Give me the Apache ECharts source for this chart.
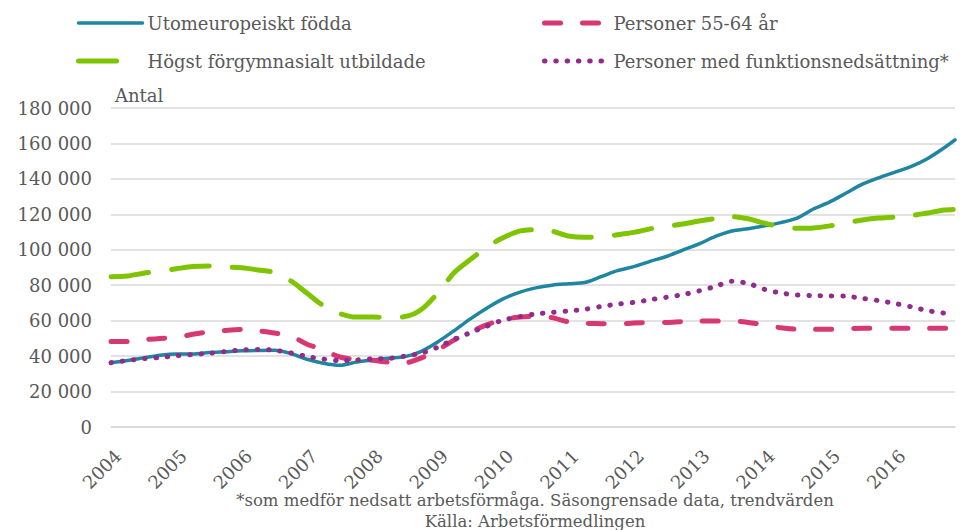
<!DOCTYPE html>
<html>
<head>
<meta charset="utf-8">
<script src="https://cdn.jsdelivr.net/npm/echarts@6/dist/echarts.min.js"></script>
<style>
html,body{margin:0;padding:0;background:#fff}
#chart{width:964px;height:530px}
</style>
</head>
<body>
<div id="chart"></div>
<script>
// kvartalsvisa avläsningar (månad), sista punkten december 2016
var datum = [
  '2004-01','2004-04','2004-07','2004-10','2005-01','2005-04','2005-07','2005-10',
  '2006-01','2006-04','2006-07','2006-10','2007-01','2007-04','2007-07','2007-10',
  '2008-01','2008-04','2008-07','2008-10','2009-01','2009-04','2009-07','2009-10',
  '2010-01','2010-04','2010-07','2010-10','2011-01','2011-04','2011-07','2011-10',
  '2012-01','2012-04','2012-07','2012-10','2013-01','2013-04','2013-07','2013-10',
  '2014-01','2014-04','2014-07','2014-10','2015-01','2015-04','2015-07','2015-10',
  '2016-01','2016-04','2016-07','2016-10','2016-12'
];
var ar = [2004,2005,2006,2007,2008,2009,2010,2011,2012,2013,2014,2015,2016];

var utomeuropeiskt = [
  36300,37500,39000,40500, 41200,41200,42000,42500, 43000,43200,43300,41500,
  38200,36000,34800,36600, 37800,38800,39700,42700, 48000,54300,61000,67000,
  72300,76000,78500,80000, 80800,81500,84800,88200, 90500,93500,96200,99800,
  103300,107500,110600,111900, 113500,115300,117800,123000, 127000,132000,137000,140600,
  143800,147000,151500,157500, 162000
];
var personer5564 = [
  48200,48200,49200,50000, 50500,52300,53700,54500, 55000,54300,53000,51500,
  46700,43600,39500,38200, 37600,36600,36300,39000, 43500,49000,53600,57600,
  60800,62000,62500,61700, 59300,58500,58300,58100, 58700,58900,59000,59500,
  59800,59800,59800,59000, 57600,56000,55200,55100, 55100,55500,55700,55700,
  55700,55700,55700,55700, 55700
];
var forgymnasialt = [
  84800,85200,86800,88000, 89300,90500,90800,90300, 89800,88600,87200,82500,
  75500,68500,64000,62000, 62000,61900,62300,66300, 75500,87000,94500,101500,
  106800,110500,111300,110500, 107800,107000,107200,108500, 109800,111800,113200,114500,
  116200,117600,118700,117500, 115000,113000,112100,112300, 113500,115200,116800,117900,
  118500,119300,120800,122400, 122800
];
var funktionsnedsattning = [
  36300,37500,38600,39200, 40200,40900,41600,42600, 43500,43800,43300,41800,
  39800,38300,37400,37800, 38500,38700,40000,41700, 45000,49500,53200,56900,
  60300,62200,63800,64700, 65500,66400,68000,69300, 70300,71800,73200,74700,
  76800,79300,82200,81000, 77700,75600,74500,74100, 74000,73800,72600,71300,
  69700,67800,65600,64300, null
];

var font = 'DejaVu Serif';
var gra = '#595959';
var blue = '#1f86a2', pink = '#d83872', green = '#7ec400', purple = '#922b8c';

function tid(d){
  var p = d.split('-');
  return +p[0] + (p[1] - 1) / 12;
}
function par(values){
  return datum.map(function(d, i){ return [tid(d), values[i]]; });
}
// legendens ikon: bara linjen, ingen symbol
function post(name, color, width, type){
  return {
    name: name,
    itemStyle: {color: 'rgba(0,0,0,0)', borderWidth: 0},
    lineStyle: {color: color, width: width, type: type, cap: 'round'}
  };
}

var chart = echarts.init(document.getElementById('chart'), null, {renderer: 'svg'});
var option = {
  animation: false,
  backgroundColor: '#fff',
  textStyle: {fontFamily: font, color: gra},
  legend: [
    {
      left: 76, top: 14, padding: 0, orient: 'vertical', itemGap: 20,
      itemWidth: 64, itemHeight: 14,
      textStyle: {fontFamily: font, fontSize: 18, color: gra},
      data: [
        post('Utomeuropeiskt födda', blue, 3.5, 'solid'),
        post('Högst förgymnasialt utbildade', green, 5, [38, 40])
      ]
    },
    {
      left: 542, top: 14, padding: 0, orient: 'vertical', itemGap: 20,
      itemWidth: 64, itemHeight: 14,
      textStyle: {fontFamily: font, fontSize: 18, color: gra},
      data: [
        post('Personer 55-64 år', pink, 5, [16, 22]),
        post('Personer med funktionsnedsättning*', purple, 5, [0.5, 10.8])
      ]
    }
  ],
  grid: {left: 111, right: 9, top: 108, bottom: 103, containLabel: false},
  xAxis: {
    type: 'value',
    min: ar[0],
    max: tid(datum[datum.length - 1]),
    interval: 1,
    axisLine: {show: true, lineStyle: {color: '#d9d9d9', width: 1.5}},
    axisTick: {show: false},
    splitLine: {show: false},
    axisLabel: {
      rotate: 45, margin: 33, fontFamily: font, fontSize: 18, color: gra,
      padding: [0, -10, 0, 0],
      showMaxLabel: false,
      formatter: function(v){ return ar.indexOf(v) >= 0 ? String(v) : ''; }
    }
  },
  yAxis: {
    type: 'value',
    min: 0, max: 180000, interval: 20000,
    name: 'Antal',
    nameLocation: 'end',
    nameGap: 4,
    nameTextStyle: {fontFamily: font, fontSize: 18, color: gra, align: 'left', padding: [0, 0, 0, 4]},
    axisLine: {show: false},
    axisTick: {show: false},
    splitLine: {lineStyle: {color: '#d9d9d9', width: 1.5}},
    axisLabel: {
      margin: 19, fontFamily: font, fontSize: 18, color: gra,
      formatter: function(v){ return v === 0 ? '0' : (v / 1000) + ' 000'; }
    }
  },
  graphic: [{
    type: 'text',
    x: 535, y: 490,
    style: {
      text: '*som medför nedsatt arbetsförmåga. Säsongrensade data, trendvärden\nKälla: Arbetsförmedlingen',
      fontFamily: font, fontSize: 16.5, lineHeight: 21,
      fill: gra, textAlign: 'center'
    }
  }],
  series: [
    {
      name: 'Utomeuropeiskt födda', type: 'line', smooth: 0.3, symbol: 'none',
      color: blue,
      lineStyle: {width: 3.5, color: blue, cap: 'round'},
      data: par(utomeuropeiskt)
    },
    {
      name: 'Personer 55-64 år', type: 'line', smooth: 0.3, symbol: 'none',
      color: pink,
      lineStyle: {width: 5, color: pink, type: [16, 22], cap: 'round'},
      data: par(personer5564)
    },
    {
      name: 'Högst förgymnasialt utbildade', type: 'line', smooth: 0.3, symbol: 'none',
      color: green,
      lineStyle: {width: 5, color: green, type: [38, 23], cap: 'round'},
      data: par(forgymnasialt)
    },
    {
      name: 'Personer med funktionsnedsättning*', type: 'line', smooth: 0.3, symbol: 'none',
      color: purple,
      lineStyle: {width: 5, color: purple, type: [0.5, 10.8], cap: 'round'},
      data: par(funktionsnedsattning)
    }
  ]
};
chart.setOption(option);
window.onresize = function(){ chart.resize(); };
</script>
</body>
</html>
